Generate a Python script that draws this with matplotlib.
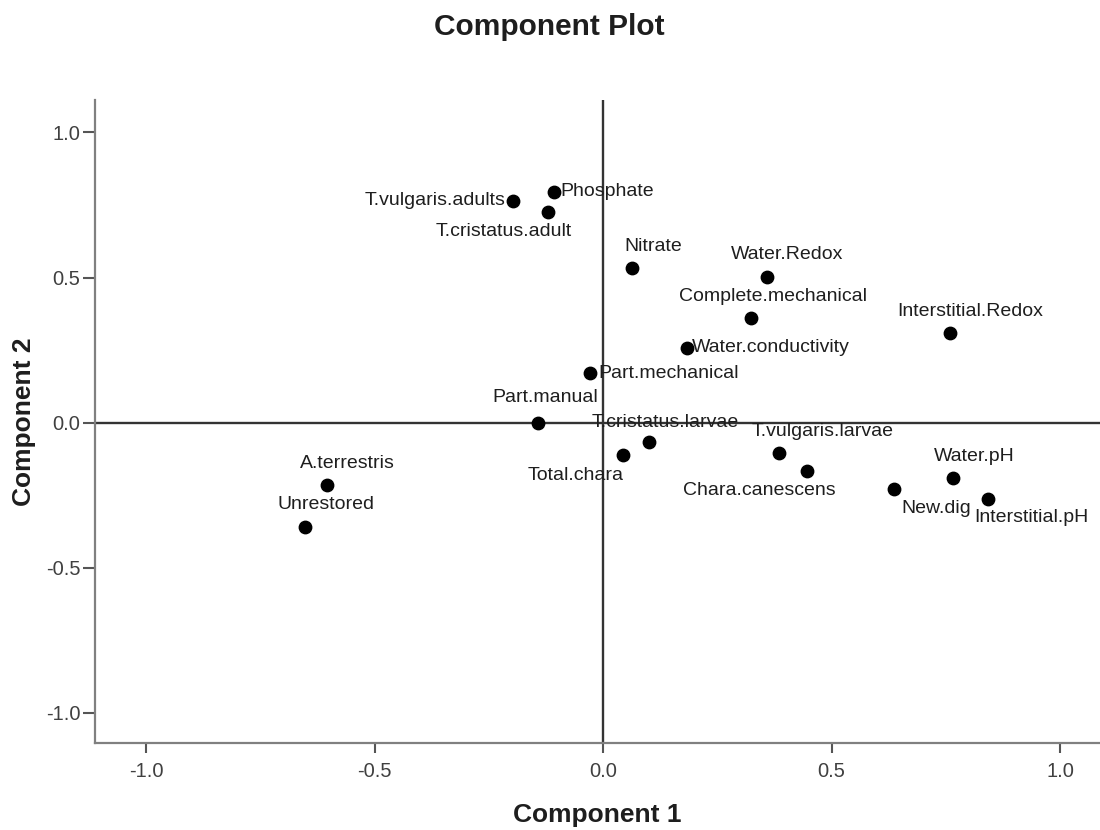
import numpy as np
import matplotlib.pyplot as plt

plt.rcParams['font.family'] = ['Liberation Sans', 'DejaVu Sans']

# component loadings
labels = ['T.vulgaris.adults', 'Phosphate', 'T.cristatus.adult', 'Nitrate',
          'Water.Redox', 'Complete.mechanical', 'Water.conductivity',
          'Part.mechanical', 'Part.manual', 'T.cristatus.larvae',
          'T.vulgaris.larvae', 'Total.chara', 'Chara.canescens',
          'Interstitial.Redox', 'Water.pH', 'New.dig', 'Interstitial.pH',
          'A.terrestris', 'Unrestored']
comp1 = [-0.197, -0.107, -0.121, 0.063, 0.358, 0.324, 0.183, -0.028, -0.142,
         0.101, 0.385, 0.044, 0.446, 0.759, 0.766, 0.637, 0.842, -0.604, -0.652]
comp2 = [0.764, 0.795, 0.726, 0.532, 0.503, 0.360, 0.257, 0.171, -0.001,
         -0.067, -0.104, -0.112, -0.167, 0.309, -0.191, -0.230, -0.264,
         -0.216, -0.360]
ticks = [-1.0, -0.5, 0.0, 0.5, 1.0]

# label placement (pixels from the dot, horizontal alignment)
lab_pos = {
    'T.vulgaris.adults': (-8, 0, 'right'),
    'Phosphate': (6, 0, 'left'),
    'T.cristatus.adult': (-44, -20, 'center'),
    'Nitrate': (21, 22, 'center'),
    'Water.Redox': (20, 22, 'center'),
    'Complete.mechanical': (22, 22, 'center'),
    'Water.conductivity': (5, 0, 'left'),
    'Part.mechanical': (8, -1, 'left'),
    'Part.manual': (7, 25, 'center'),
    'T.cristatus.larvae': (16, 19, 'center'),
    'T.vulgaris.larvae': (44, 21, 'center'),
    'Total.chara': (-48, -20, 'center'),
    'Chara.canescens': (-48, -20, 'center'),
    'Interstitial.Redox': (20, 21, 'center'),
    'Water.pH': (21, 21, 'center'),
    'New.dig': (42, -19, 'center'),
    'Interstitial.pH': (44, -18, 'center'),
    'A.terrestris': (20, 22, 'center'),
    'Unrestored': (21, 22, 'center'),
}

fig = plt.figure(figsize=(11, 8.3), dpi=100)
ax = fig.add_axes([0.0864, 0.1048, 0.9136, 0.7747])

ax.axhline(0, color='#333333', lw=1.7, zorder=1)
ax.axvline(0, color='#333333', lw=1.7, zorder=1)
ax.scatter(comp1, comp2, s=80, color='black', zorder=3)

for name, x, y in zip(labels, comp1, comp2):
    dx, dy, ha = lab_pos[name]
    ax.annotate(name, (x, y), xytext=(dx, dy), textcoords='offset pixels',
                ha=ha, va='center', fontsize=14, color='#1e1e1e', zorder=4)

ax.set_xlim(-1.1116, 1.0875)
ax.set_ylim(-1.105, 1.112)
ax.set_xticks(ticks)
ax.set_yticks(ticks)
ax.set_xticklabels(['%.1f' % t for t in ticks])
ax.set_yticklabels(['%.1f' % t for t in ticks])

for s in ['top', 'right']:
    ax.spines[s].set_visible(False)
for s in ['left', 'bottom']:
    ax.spines[s].set_color('#808080')
    ax.spines[s].set_linewidth(1.6)

ax.tick_params(axis='x', length=7, width=1.5, color='#555555', pad=7,
               labelsize=14.5, labelcolor='#404040')
ax.tick_params(axis='y', length=8.5, width=1.5, color='#555555', pad=2,
               labelsize=14.5, labelcolor='#404040')

ax.set_xlabel('Component 1', fontsize=19, fontweight='bold', color='#1e1e1e')
ax.set_ylabel('Component 2', fontsize=19, fontweight='bold', color='#1e1e1e')
ax.xaxis.set_label_coords(0.5, -0.094)
ax.yaxis.set_label_coords(-0.0587, 0.5)

fig.text(0.499, 0.967, 'Component Plot', ha='center', va='center',
         fontsize=21.5, fontweight='bold', color='#1e1e1e')

fig.savefig('out.png', dpi=100)
